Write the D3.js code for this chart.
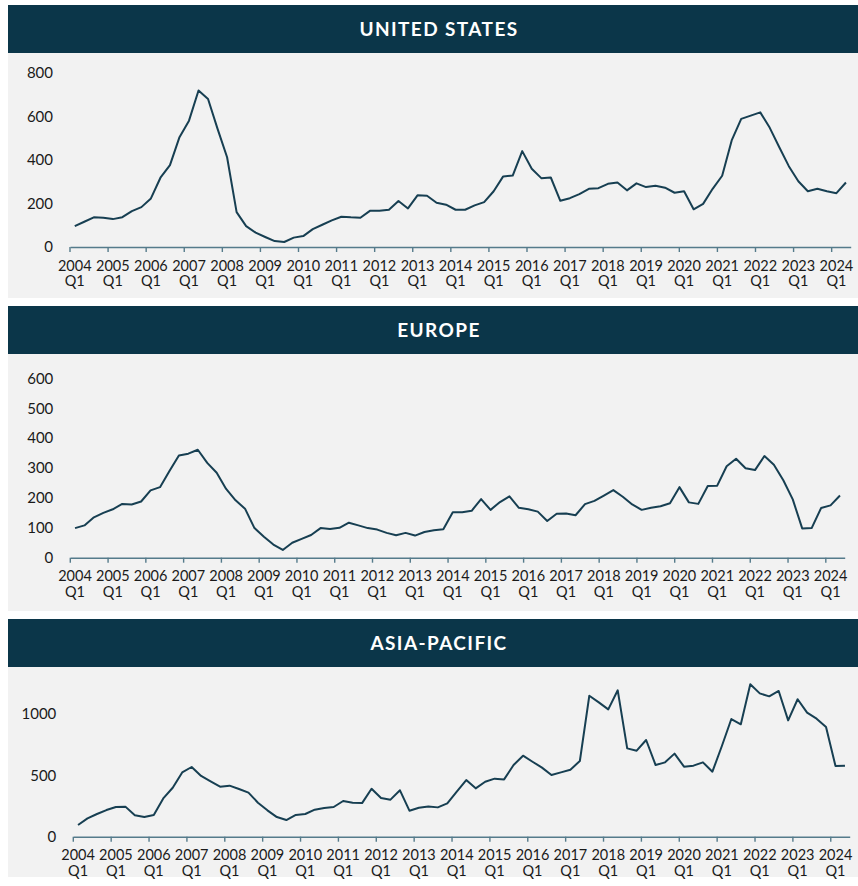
<!DOCTYPE html>
<html>
<head>
<meta charset="utf-8">
<script src="https://d3js.org/d3.v7.min.js"></script>
<style>
  body { margin: 0; background: #ffffff; }
  svg { display: block; font-family: Lato, "Noto Sans", sans-serif; }
</style>
</head>
<body>
<div id="chart"></div>
<script>
// ---- data ----
var years = ["2004","2005","2006","2007","2008","2009","2010","2011","2012","2013","2014",
             "2015","2016","2017","2018","2019","2020","2021","2022","2023","2024"];
var quarterNames = ["Q1","Q2","Q3","Q4"];
var lastQuarter = "2024 Q2";

var usValues = [96,116,136,134,128,137,165,183,223,318, 376,504,580,718,679,542,412,160,96,66,
                46,27,23,43,50,82,102,122,139,136, 134,166,166,171,211,177,237,235,
                203,194,171,171,191,206,256,324,328,440, 359,316,319,212,224,243,267,270,290,296,
                260,292,275,281,272,249,256,173,198,267, 327,489,588,603,618,547,458,371,302,256,
                267,256,247,296];

var europeValues = [99,108,135,150,162,180,178,188,225,236, 290,342,348,361,317,284,230,192,164,99,
                    70,44,26,50,63,76,99,96,100,117, 108,99,94,83,75,83,74,86,
                    92,95,152,152,157,196,160,186,205,167, 162,154,123,147,148,142,179,190,208,226,
                    204,178,160,167,172,182,236,185,180,240, 241,306,331,299,293,340,311,259,195,98,
                    99,166,175,208];

var asiaValues = [95,149,185,217,242,245,174,160,177,312, 399,524,568,495,451,408,416,389,359,277,
                  215,160,136,177,185,220,234,242,291,277, 274,391,315,302,378,212,236,247,
                  239,272,367,462,394,448,473,467,584,660, 611,563,503,524,546,617,1149,1095,1038,1193,
                  720,701,788,584,606,677,571,579,606,530, 739,959,916,1242,1168,1144,1188,948,1120,1011,
                  962,894,576,579];

var usTicks = [0, 200, 400, 600, 800];
var europeTicks = [0, 100, 200, 300, 400, 500, 600];
var asiaTicks = [0, 500, 1000];

// categories: 2004 Q1 .. 2024 Q2
var quarters = [];
years.forEach(function (yr) {
    quarterNames.forEach(function (q) {
        var label = yr + " " + q;
        if (quarters.length && quarters[quarters.length - 1] == lastQuarter) return;
        quarters.push(label);
    });
});

// ---- layout ----
var width = 858, height = 886;
var navy = "#0b3649",
    lineColor = "#173f52",
    axisColor = "#557b8b",
    panelBg = "#f2f2f2";

var svg = d3.select("#chart").append("svg")
    .attr("width", width)
    .attr("height", height);

var panels = [
    { title: "UNITED STATES", values: usValues, ticks: usTicks,
      top: 5, bottom: 298, x0: 70, x1: 850.7, yDomain: [0, 800], yRange: [247, 72.7] },
    { title: "EUROPE", values: europeValues, ticks: europeTicks,
      top: 306, bottom: 611, x0: 70.3, x1: 844.7, yDomain: [0, 600], yRange: [557.7, 378.3] },
    { title: "ASIA-PACIFIC", values: asiaValues, ticks: asiaTicks,
      top: 619, bottom: 877, x0: 73.3, x1: 849.7, yDomain: [0, 1000], yRange: [836.7, 714] }
];

panels.forEach(drawPanel);

/////////////////////////////
// draws one region panel
/////////////////////////////
function drawPanel(p) {
    var g = svg.append("g");

    // background + header bar
    g.append("rect")
        .attr("x", 8).attr("y", p.top + 48)
        .attr("width", width - 8).attr("height", p.bottom - p.top - 48)
        .attr("fill", panelBg);
    g.append("rect")
        .attr("x", 8).attr("y", p.top)
        .attr("width", width - 8).attr("height", 48)
        .attr("fill", navy);
    g.append("text")
        .attr("x", 439).attr("y", p.top + 31)
        .attr("text-anchor", "middle")
        .attr("fill", "#ffffff")
        .style("font-size", "19px")
        .style("font-weight", "700")
        .style("letter-spacing", "1.4px")
        .text(p.title);

    var x = d3.scaleBand()
        .domain(quarters)
        .range([p.x0, p.x1])
        .padding(0);
    var bw = x.bandwidth();

    var y = d3.scaleLinear()
        .domain(p.yDomain)
        .range(p.yRange);

    // y axis labels only
    var yAxis = g.append("g")
        .attr("transform", "translate(" + (p.x0 - 17) + ",0)")
        .call(d3.axisLeft(y).tickValues(p.ticks).tickSize(0).tickPadding(0).tickFormat(d3.format("d")));
    yAxis.select(".domain").remove();
    yAxis.selectAll("text")
        .attr("fill", "#1a1a1a")
        .style("font-size", "15px")
        .style("font-family", "Lato, sans-serif");

    // x axis: ticks at start of each year, labels under the Q1 point
    var firstQuarters = quarters.filter(function (d) { return d.indexOf("Q1") > 0; });
    var xAxis = g.append("g")
        .attr("transform", "translate(0," + p.yRange[0] + ")")
        .call(d3.axisBottom(x).tickValues(firstQuarters).tickSizeOuter(0).tickSizeInner(5).tickFormat(""));
    xAxis.select(".domain").attr("stroke", axisColor).attr("stroke-width", 1.4);
    xAxis.selectAll(".tick line")
        .attr("stroke", axisColor).attr("stroke-width", 1.4)
        .attr("x1", -bw / 2).attr("x2", -bw / 2);
    xAxis.selectAll(".tick text").remove();
    xAxis.selectAll(".tick").append("text")
        .attr("fill", "#1a1a1a")
        .attr("text-anchor", "middle")
        .style("font-size", "14.5px")
        .style("font-family", "Lato, sans-serif")
        .each(function (d) {
            var parts = d.split(" ");
            var t = d3.select(this);
            t.append("tspan").attr("x", 0).attr("y", 23.5).text(parts[0]);
            t.append("tspan").attr("x", 0).attr("y", 39).text(parts[1]);
        });

    // series line
    var line = d3.line()
        .x(function (d, i) { return x(quarters[i]) + bw / 2; })
        .y(function (d) { return y(d); });

    g.append("path")
        .datum(p.values)
        .attr("fill", "none")
        .attr("stroke", lineColor)
        .attr("stroke-width", 2)
        .attr("stroke-linejoin", "round")
        .attr("d", line);
}
</script>
</body>
</html>
